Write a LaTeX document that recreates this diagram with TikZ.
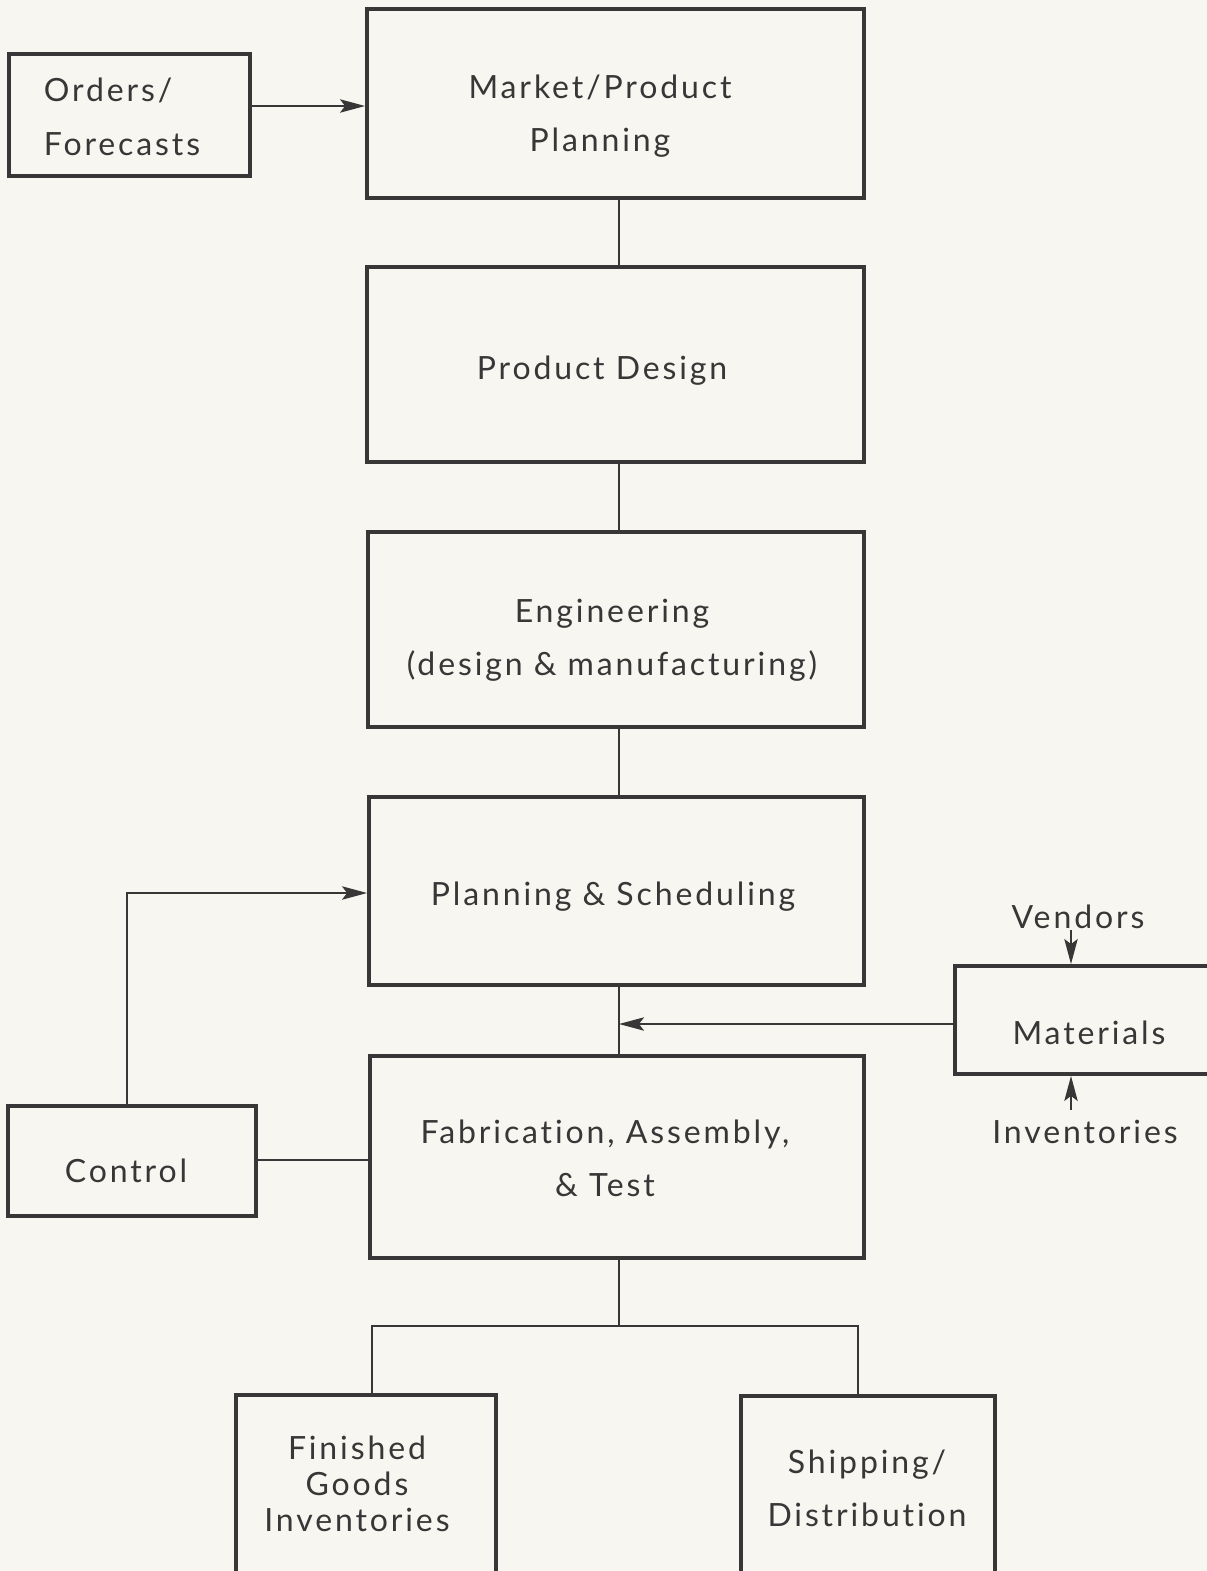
\documentclass[tikz,border=0pt]{standalone}
\usepackage{fontspec}
\setmainfont{Lato}[LetterSpace=9,Ligatures=NoCommon]
\usetikzlibrary{arrows.meta}
\definecolor{bg}{HTML}{F8F6F1}
\definecolor{ink}{HTML}{383636}
\begin{document}
\begin{tikzpicture}[x=0.6pt,y=-0.6pt,
  box/.style n args={2}{draw=ink, line width=2.3pt, minimum width=#1*0.6pt, minimum height=#2*0.6pt, inner sep=0pt},
  lbl/.style={text=ink, font=\fontsize{19.2}{32}\selectfont, align=center, inner sep=0pt},
  con/.style={draw=ink, line width=1.2pt},
  arr/.style={con, -{Stealth[length=15pt,width=8pt,inset=3pt]}}]
\useasboundingbox (0,0) rectangle (1207,1571);
\fill[bg] (0,0) rectangle (1207,1571);
\clip (0,0) rectangle (1207,1571);

% boxes (centre from pixel extents)
\node[box={241}{122}] (ord) at (129.5,115) {};
\node[box={497}{189}] (mkt) at (615.5,103.5) {};
\node[box={497}{195}] (pd)  at (615.5,364.5) {};
\node[box={496}{195}] (eng) at (616,629.5) {};
\node[box={495}{188}] (pls) at (616.5,891) {};
\node[box={494}{202}] (fab) at (617,1157) {};
\node[box={248}{110}] (ctl) at (132,1161) {};
\node[box={320}{108}] (mat) at (1115,1020) {};
\node[box={260}{260}] (fin) at (366,1525) {};
\node[box={254}{260}] (shp) at (868,1526) {};

% texts
\node[lbl, align=left] (ordt) at (122,117) {Orders/\\Forecasts};
\node[lbl] (mktt) at (600,116) {Market/Product\\Planning};
\node[lbl] (pdt)  at (602,371) {Product Design};
\node[lbl] (engt) at (612,640) {Engineering\\(design \& manufacturing)};
\node[lbl] (plst) at (613,897) {Planning \& Scheduling};
\node[lbl] (fabt) at (605,1158) {Fabrication, Assembly,\\\& Test};
\node[lbl] (ctlt) at (126,1171) {Control};
\node[lbl] (matt) at (1089,1033) {Materials};
\node[lbl] (vent) at (1078,917) {Vendors};
\node[lbl] (invt) at (1085,1132) {Inventories};
\node[lbl, font=\fontsize{19.2}{21.6}\selectfont] (fint) at (357,1484) {Finished\\Goods\\Inventories};
\node[lbl] (shpt) at (867,1488) {Shipping/\\Distribution};

% connectors
\draw[arr] (ord.east |- 0,106) -- (mkt.west |- 0,106);
\draw[con] (mkt.south -| 619,0) -- (pd.north -| 619,0);
\draw[con] (pd.south -| 619,0) -- (eng.north -| 619,0);
\draw[con] (eng.south -| 619,0) -- (pls.north -| 619,0);
\draw[con] (pls.south -| 619,0) -- (fab.north -| 619,0);
\coordinate (mj) at (619,1024);
\draw[arr] (mat.west |- mj) -- (mj);
\draw[arr] (ctl.north -| 127,0) |- (pls.west |- 0,893);
\draw[con] (ctl.east |- 0,1160) -- (fab.west |- 0,1160);
\coordinate (vn) at (1071,930);
\draw[arr] (vn) -- (mat.north -| vn);
\coordinate (iv) at (1071,1110);
\draw[arr] (iv) -- (mat.south -| iv);
\coordinate (bj) at (619,1326);
\draw[con] (fab.south -| bj) -- (bj);
\draw[con] (fin.north -| 372,0) |- (bj) -| (shp.north -| 858,0);
\end{tikzpicture}
\end{document}
